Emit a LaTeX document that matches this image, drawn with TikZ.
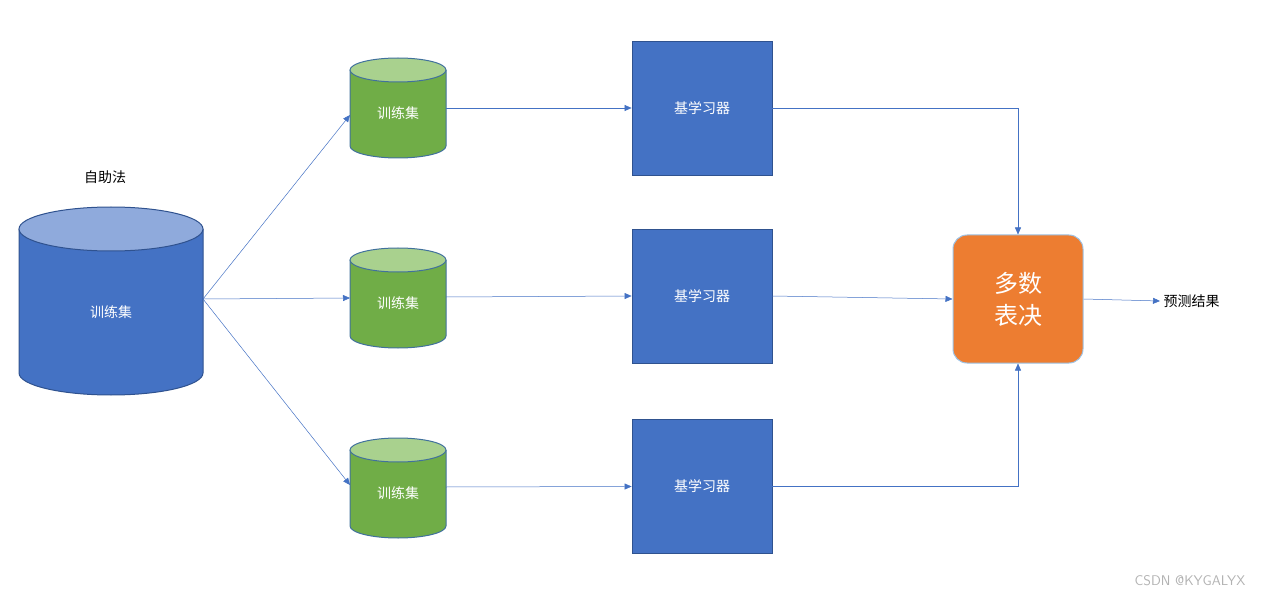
\documentclass[tikz,border=0pt]{standalone}
\usepackage{fontspec}
\setmainfont{Noto Sans CJK SC}
\usetikzlibrary{arrows.meta}
\definecolor{cb}{HTML}{4472C4}
\definecolor{cbt}{HTML}{8FAADC}
\definecolor{cbd}{HTML}{2F528F}
\definecolor{cg}{HTML}{70AD47}
\definecolor{cgt}{HTML}{A9D18E}
\definecolor{cgd}{HTML}{41719C}
\definecolor{co}{HTML}{ED7D31}
\definecolor{cob}{HTML}{9DC3E6}
\begin{document}
\begin{tikzpicture}[x=1pt,y=-1pt,
  lbl/.style={text=white,font=\fontsize{14}{16}\selectfont},
  box/.style={draw=cbd,fill=cb,line width=0.8pt,minimum width=140pt,minimum height=134pt,inner sep=0pt,lbl},
  arr/.style={draw=cb,line width=0.5pt,-{Triangle[length=7pt,width=6pt]}}]
\useasboundingbox (0,0) rectangle (1288,604);
% cylinder macro
\newcommand{\cyl}[9]{% name,x1,x2,ytop,ybot,ry,fill,top,border
  \pgfmathsetmacro{\cx}{(#2+#3)/2}\pgfmathsetmacro{\rx}{(#3-#2)/2}
  \fill[#7] (#2,#4) -- (#2,#5) arc[start angle=180,end angle=360,x radius=\rx,y radius=-#6] -- (#3,#4) -- cycle;
  \draw[#9,line width=1pt] (#2,#4) -- (#2,#5) arc[start angle=180,end angle=360,x radius=\rx,y radius=-#6] -- (#3,#4);
  \draw[#9,line width=1pt,fill=#8] (\cx,#4) ellipse[x radius=\rx,y radius=#6];
  \node[inner sep=0pt,minimum width=#3-#2,minimum height=#5-#4+#6] (#1) at (\cx,{(#4+#5+#6)/2}) {};
}
\cyl{big}{19}{203}{229}{373}{22}{cb}{cbt}{cbd}
\node[lbl] at (111,312) {训练集};
\node[font=\fontsize{14}{16}\selectfont] (zzf) at (105,177) {自助法};
\cyl{g1}{350}{446}{70}{146}{12}{cg}{cgt}{cgd}
\cyl{g2}{350}{446}{260}{336}{12}{cg}{cgt}{cgd}
\cyl{g3}{350}{446}{450}{526}{12}{cg}{cgt}{cgd}
\node[lbl] at (398,113) {训练集};
\node[lbl] at (398,303) {训练集};
\node[lbl] at (398,493) {训练集};
\node[box] (b1) at (702,108) {基学习器};
\node[box] (b2) at (702,296) {基学习器};
\node[box] (b3) at (702,486.5) {基学习器};
\node[draw=cob,fill=co,line width=1pt,rounded corners=14pt,minimum width=130pt,minimum height=128pt,inner sep=0pt,text=white,align=center,font=\fontsize{24}{32}\selectfont] (v) at (1018,299) {多数\\表决};
\node[font=\fontsize{14}{16}\selectfont,anchor=west] (out) at (1160,301) {预测结果};
\coordinate (s) at (203,299);
\draw[arr] (s) -- (350,115);
\draw[arr] (s) -- (350,298);
\draw[arr] (s) -- (350,485);
\draw[arr] (446,108) -- (b1.west);
\draw[arr] (446,297) -- (b2.west);
\draw[arr] (446,487) -- (b3.west);
\draw[arr] (b1.east) -| (v.north);
\draw[arr] (b2.east) -- (v.west);
\draw[arr] (b3.east) -| (v.south);
\draw[arr] (v.east) -- (out.west);
\node[text=gray!60,font=\fontsize{14}{16}\selectfont\sffamily] at (1190,581) {CSDN @KYGALYX};
\end{tikzpicture}
\end{document}
